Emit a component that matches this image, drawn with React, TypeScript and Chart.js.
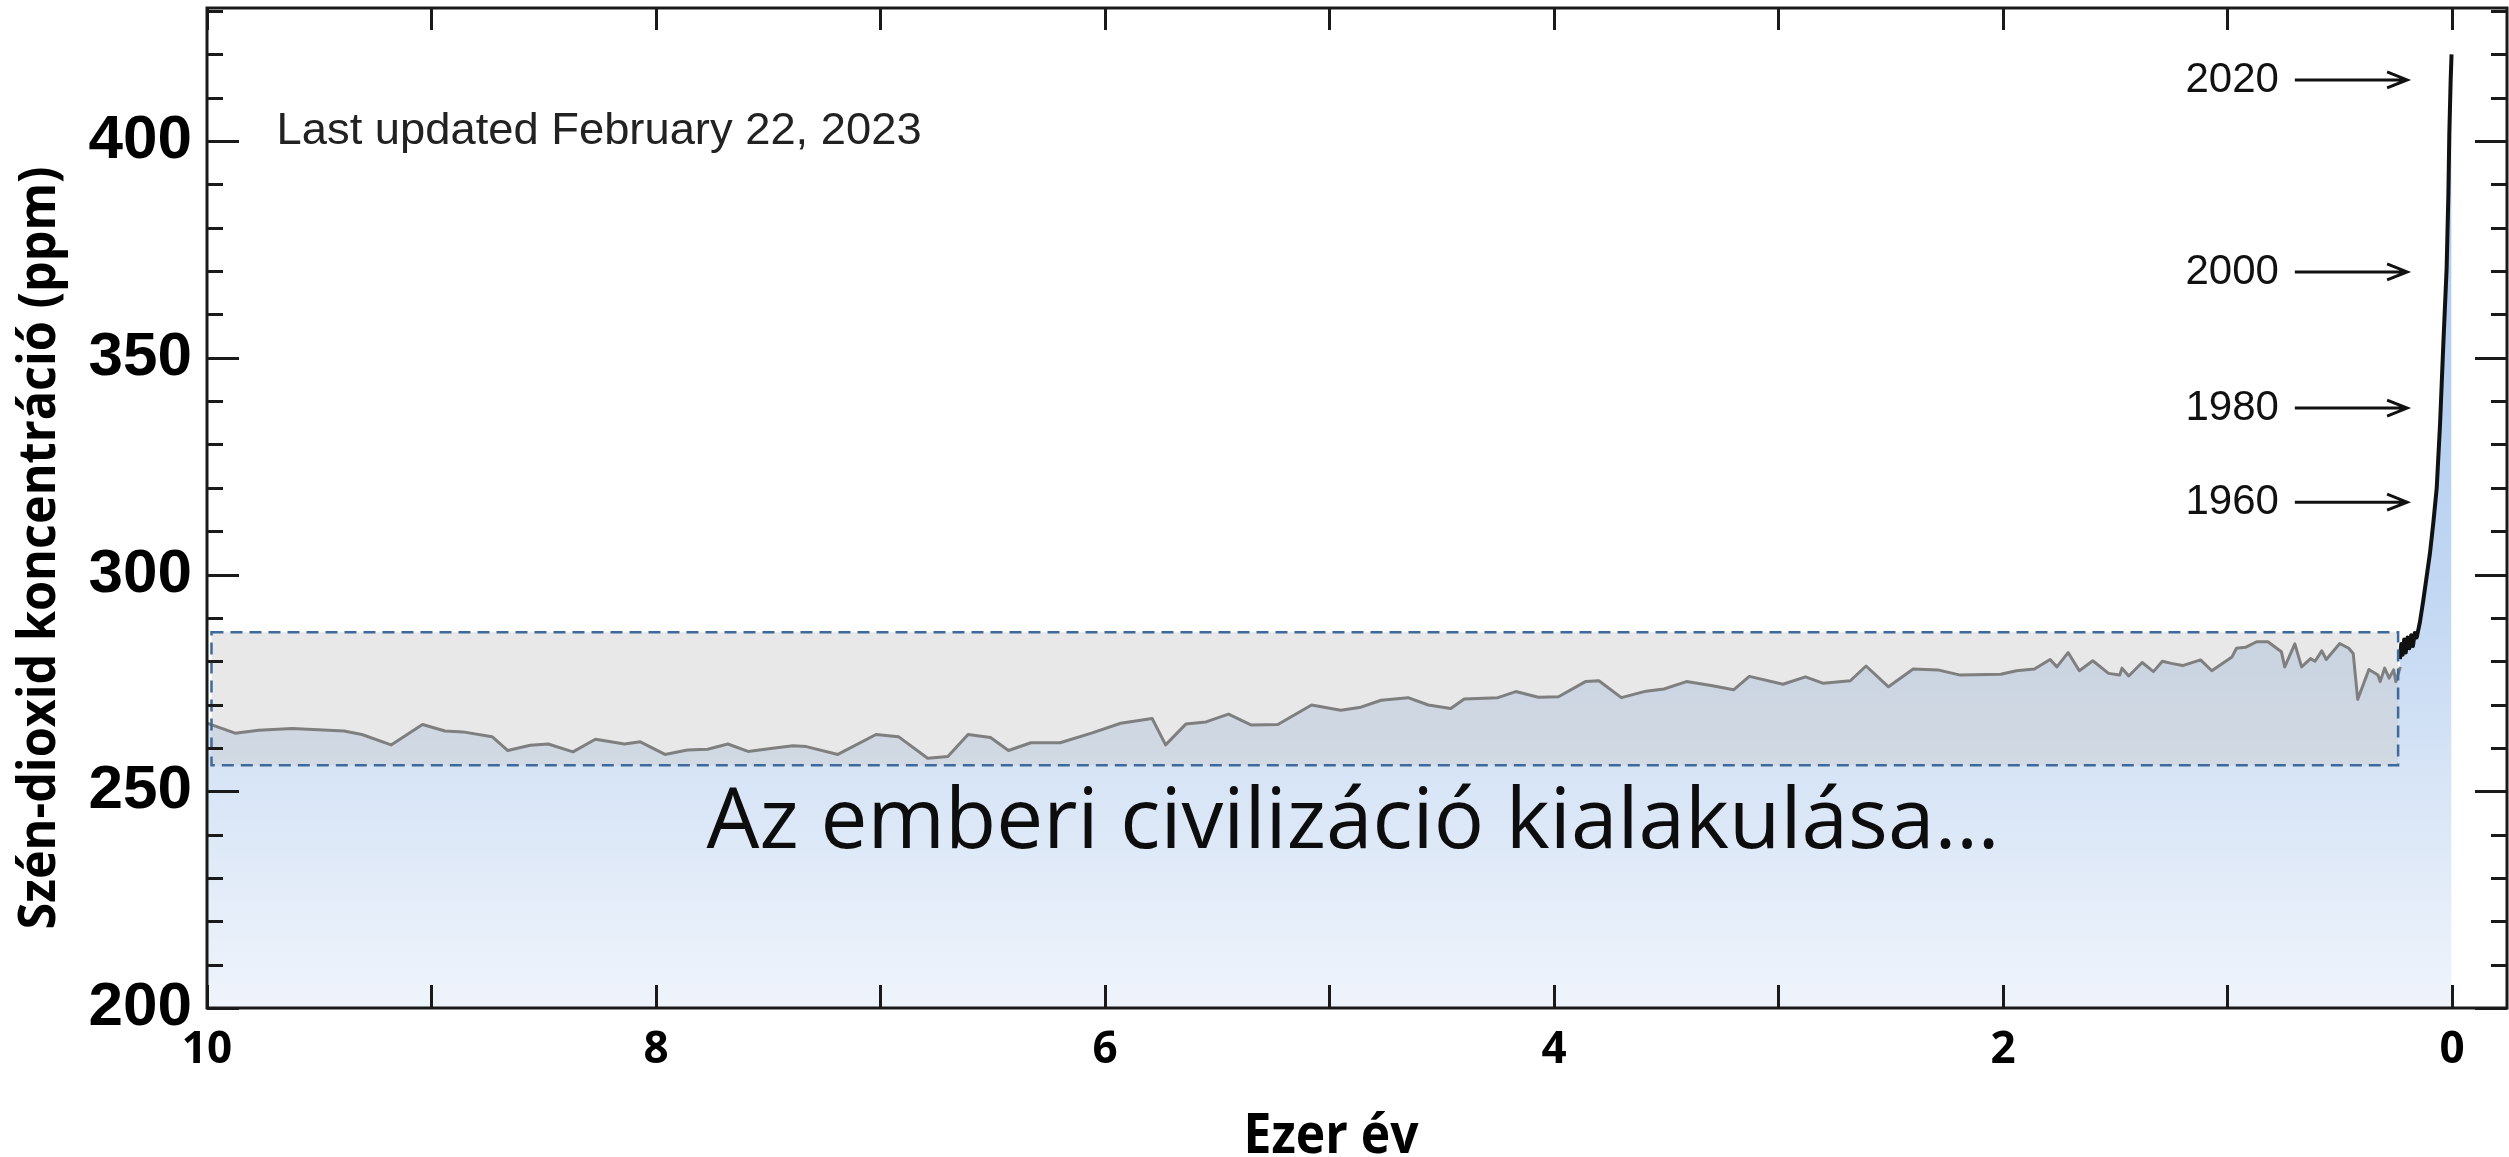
import React, { useEffect, useRef } from "react";
import { Chart, registerables } from "chart.js";

Chart.register(...registerables);

// ---- Data (thousand years before present, ppm) ----
const iceKy = [
  10.0, 9.875, 9.77, 9.62, 9.39, 9.31, 9.18, 9.04, 8.94, 8.86, 8.73, 8.66, 8.56, 8.48, 8.37, 8.27, 8.14, 8.07,
  7.96, 7.86, 7.77, 7.68, 7.59, 7.48, 7.39, 7.33, 7.19, 7.02, 6.92, 6.79, 6.7, 6.61, 6.51, 6.43, 6.33, 6.2,
  6.06, 5.93, 5.79, 5.73, 5.64, 5.55, 5.45, 5.35, 5.23, 5.08, 4.95, 4.86, 4.77, 4.65, 4.56, 4.46, 4.4, 4.25,
  4.17, 4.07, 3.98, 3.86, 3.8, 3.7, 3.59, 3.51, 3.41, 3.3, 3.2, 3.13, 2.98, 2.88, 2.8, 2.68, 2.61, 2.51, 2.4,
  2.29, 2.19, 2.01, 1.94, 1.86, 1.79, 1.76, 1.71, 1.66, 1.6, 1.53, 1.48, 1.47, 1.44, 1.38, 1.33, 1.29, 1.25,
  1.2, 1.12, 1.07, 0.98, 0.96, 0.92, 0.87, 0.82, 0.76, 0.745, 0.7, 0.67, 0.63, 0.61, 0.58, 0.56, 0.5, 0.46,
  0.44, 0.42, 0.37, 0.33, 0.32, 0.3, 0.28, 0.26, 0.25, 0.23,
];
const icePpm = [
  265.7, 263.4, 264.1, 264.5, 263.9, 263.1, 260.7, 265.4, 263.9, 263.7, 262.6, 259.4, 260.6, 260.9, 259.1, 262.0, 260.9, 261.4,
  258.5, 259.5, 259.7, 260.9, 259.2, 259.9, 260.5, 260.3, 258.5, 263.1, 262.6, 257.6, 258.0, 263.1, 262.4, 259.4, 261.2, 261.2,
  263.4, 265.7, 266.8, 260.7, 265.5, 266.0, 267.8, 265.3, 265.4, 269.9, 268.7, 269.4, 271.0, 271.6, 269.9, 269.1, 271.3, 271.6,
  273.0, 271.7, 271.8, 275.3, 275.5, 271.6, 273.1, 273.6, 275.3, 274.4, 273.4, 276.5, 274.7, 276.4, 274.9, 275.5, 278.9, 274.1, 278.2,
  278.0, 276.8, 277.0, 277.8, 278.2, 280.4, 278.7, 282.0, 277.8, 280.1, 277.2, 276.8, 278.4, 276.6, 279.7, 277.6, 280.0, 279.5,
  279.0, 280.3, 277.8, 281.0, 283.0, 283.2, 284.5, 284.5, 282.2, 278.7, 284.0, 278.7, 280.6, 280.0, 282.4, 280.4, 284.1, 283.0,
  281.8, 271.2, 278.1, 276.8, 275.3, 278.4, 276.1, 278.0, 275.3, 278.7,
];
const recentKy = [
  0.232, 0.226, 0.22, 0.213, 0.206, 0.198, 0.19, 0.182, 0.174, 0.166, 0.157, 0.143, 0.128, 0.113, 0.098,
  0.083, 0.068, 0.053, 0.039, 0.024, 0.016, 0.012, 0.006, 0.002,
];
const recentPpm = [
  280.5, 284.0, 281.5, 285.0, 282.0, 285.5, 283.0, 286.0, 283.5, 286.5, 285.5, 289.0, 294.0, 299.5, 305.0,
  312.0, 320.0, 335.0, 352.7, 370.5, 388.0, 401.5, 414.0, 420.0,
];

const yearLabels = ["2020", "2000", "1980", "1960"];
const yearPpm = [414.1, 369.8, 338.4, 316.7];

const boxKy = [9.98, 0.24];
const boxPpm = [256, 286.7];

const updatedText = "Last updated February 22, 2023";
const mainText = "Az emberi civilizáció kialakulása…";
const yTitle = "Szén-dioxid koncentráció (ppm)";
const xTitle = "Ezer év";

function fitText(ctx: CanvasRenderingContext2D, text: string, x: number, y: number, targetW: number, align: "left" | "center" | "right") {
  const w = ctx.measureText(text).width;
  const s = targetW / w;
  ctx.save();
  ctx.translate(x, y);
  ctx.scale(s, 1);
  ctx.textAlign = align;
  ctx.fillText(text, 0, 0);
  ctx.restore();
}

const decoPlugin = {
  id: "deco",
  beforeDatasetsDraw(chart: any) {
    const { ctx, scales } = chart;
    const x = scales.x, y = scales.y;
    const l = x.getPixelForValue(boxKy[0]);
    const r = x.getPixelForValue(boxKy[1]);
    const t = y.getPixelForValue(boxPpm[1]);
    const b = y.getPixelForValue(boxPpm[0]);
    ctx.save();
    ctx.fillStyle = "rgba(205,205,205,0.45)";
    ctx.fillRect(l, t, r - l, b - t);
    ctx.restore();
  },
  afterDatasetsDraw(chart: any) {
    const { ctx, scales, chartArea } = chart;
    const x = scales.x, y = scales.y;
    // dashed box
    const l = x.getPixelForValue(boxKy[0]);
    const r = x.getPixelForValue(boxKy[1]);
    const t = y.getPixelForValue(boxPpm[1]);
    const b = y.getPixelForValue(boxPpm[0]);
    ctx.save();
    ctx.strokeStyle = "#3d6a9a";
    ctx.lineWidth = 2.5;
    ctx.setLineDash([12, 7]);
    ctx.strokeRect(l, t, r - l, b - t);
    ctx.restore();

    // ticks and frame
    ctx.save();
    ctx.strokeStyle = "#1a1a1a";
    ctx.lineWidth = 3;
    ctx.beginPath();
    for (let v = 200; v <= 430; v += 10) {
      const py = Math.round(y.getPixelForValue(v)) + 0.5;
      const len = v % 50 === 0 ? 32 : 16;
      ctx.moveTo(chartArea.left, py);
      ctx.lineTo(chartArea.left + len, py);
      ctx.moveTo(chartArea.right, py);
      ctx.lineTo(chartArea.right - len, py);
    }
    for (let v = 0; v <= 10; v += 1) {
      const px = Math.round(x.getPixelForValue(v)) + 0.5;
      ctx.moveTo(px, chartArea.bottom);
      ctx.lineTo(px, chartArea.bottom - 23);
      ctx.moveTo(px, chartArea.top);
      ctx.lineTo(px, chartArea.top + 22);
    }
    ctx.stroke();
    ctx.lineWidth = 3;
    ctx.strokeRect(chartArea.left, chartArea.top, chartArea.right - chartArea.left, chartArea.bottom - chartArea.top);
    ctx.restore();

    // Last updated
    ctx.save();
    ctx.fillStyle = "#222";
    ctx.font = '45px "Liberation Sans", Arial, sans-serif';
    ctx.textBaseline = "alphabetic";
    fitText(ctx, updatedText, x.getPixelForValue(9.69), y.getPixelForValue(399.3), 645, "left");
    ctx.restore();

    // year labels with arrows
    ctx.save();
    ctx.fillStyle = "#111";
    ctx.strokeStyle = "#111";
    ctx.lineWidth = 3;
    ctx.font = '42px "Liberation Sans", Arial, sans-serif';
    ctx.textBaseline = "middle";
    ctx.textAlign = "right";
    yearLabels.forEach((lab, i) => {
      const py = y.getPixelForValue(yearPpm[i]);
      ctx.fillText(lab, x.getPixelForValue(0.771), py);
      const x0 = x.getPixelForValue(0.7);
      const x1 = x.getPixelForValue(0.2);
      ctx.beginPath();
      ctx.moveTo(x0, py);
      ctx.lineTo(x1, py);
      ctx.moveTo(x1 - 20, py - 8);
      ctx.lineTo(x1, py);
      ctx.lineTo(x1 - 20, py + 8);
      ctx.stroke();
    });
    ctx.restore();

    // main annotation
    ctx.save();
    ctx.fillStyle = "#0d0d0d";
    ctx.font = '84px "Open Sans", sans-serif';
    ctx.textBaseline = "alphabetic";
    fitText(ctx, mainText, x.getPixelForValue(4.895), y.getPixelForValue(236.9), 1293, "center");
    ctx.restore();
  },
  afterDraw(chart: any) {
    const { ctx } = chart;
    // y title
    ctx.save();
    ctx.fillStyle = "#000";
    ctx.font = 'bold 52px "Open Sans", sans-serif';
    ctx.textBaseline = "alphabetic";
    ctx.translate(55, 548);
    ctx.rotate(-Math.PI / 2);
    fitText(ctx, yTitle, 0, 0, 763, "center");
    ctx.restore();
    // x title
    ctx.save();
    ctx.fillStyle = "#000";
    ctx.font = 'bold 56px "Open Sans", sans-serif';
    ctx.textBaseline = "alphabetic";
    fitText(ctx, xTitle, 1331, 1153, 175, "center");
    ctx.restore();
  },
};

function areaFill(c: any) {
  const chart = c.chart;
  const { ctx, chartArea, scales } = chart;
  if (!chartArea || !scales.y) return "rgba(200,220,245,1)";
  const y = scales.y;
  const g = ctx.createLinearGradient(0, y.getPixelForValue(420), 0, y.getPixelForValue(200));
  g.addColorStop(0, "#a5c5ee");
  g.addColorStop(0.545, "#c0d6f2");
  g.addColorStop(0.75, "#d6e4f6");
  g.addColorStop(1, "#eff4fb");
  return g;
}

export default function App() {
  const ref = useRef<HTMLCanvasElement | null>(null);
  useEffect(() => {
    if (!ref.current) return;
    const chart = new Chart(ref.current, {
      type: "line",
      data: {
        datasets: [
          {
            data: iceKy.map((k, i) => ({ x: k, y: icePpm[i] })),
            borderColor: "#7f7f7f",
            borderWidth: 3,
            pointRadius: 0,
            tension: 0,
            fill: "start",
            backgroundColor: areaFill,
            borderJoinStyle: "round",
          },
          {
            data: recentKy.map((k, i) => ({ x: k, y: recentPpm[i] })),
            borderColor: "#111",
            borderWidth: 4,
            pointRadius: 0,
            tension: 0,
            fill: "start",
            backgroundColor: areaFill,
            borderJoinStyle: "round",
          },
        ],
      },
      options: {
        responsive: false,
        maintainAspectRatio: false,
        animation: false,
        layout: { padding: { top: 8, right: 2, left: 0, bottom: 0 } },
        plugins: {
          legend: { display: false },
          tooltip: { enabled: false },
          filler: { drawTime: "beforeDatasetsDraw" },
        },
        scales: {
          x: {
            type: "linear",
            reverse: true,
            min: -0.245,
            max: 10,
            grid: { display: false, drawTicks: false },
            border: { display: false },
            afterFit: (s: any) => {
              s.height = 149;
              s.paddingLeft = 0;
              s.paddingRight = 0;
            },
            ticks: {
              stepSize: 2,
              includeBounds: false,
              autoSkip: false,
              maxRotation: 0,
              padding: 16,
              color: "#000",
              font: { family: '"Open Sans", sans-serif', weight: "bold", size: 44 },
              callback: (v: any) => String(v),
            },
          },
          y: {
            type: "linear",
            min: 200,
            max: 430.7,
            grid: { display: false, drawTicks: false },
            border: { display: false },
            afterFit: (s: any) => {
              s.width = 207;
              s.paddingTop = 0;
              s.paddingBottom = 0;
            },
            ticks: {
              stepSize: 50,
              includeBounds: false,
              padding: 15,
              color: "#000",
              font: { family: '"Liberation Sans", Arial, sans-serif', weight: "bold", size: 62 },
            },
          },
        },
      },
      plugins: [decoPlugin],
    } as any);
    return () => chart.destroy();
  }, []);
  return (
    <div style={{ position: "fixed", left: 0, top: 0, width: 2509, height: 1157, background: "#fff" }}>
      <canvas ref={ref} width={2509} height={1157} style={{ display: "block", width: 2509, height: 1157 }} />
    </div>
  );
}
